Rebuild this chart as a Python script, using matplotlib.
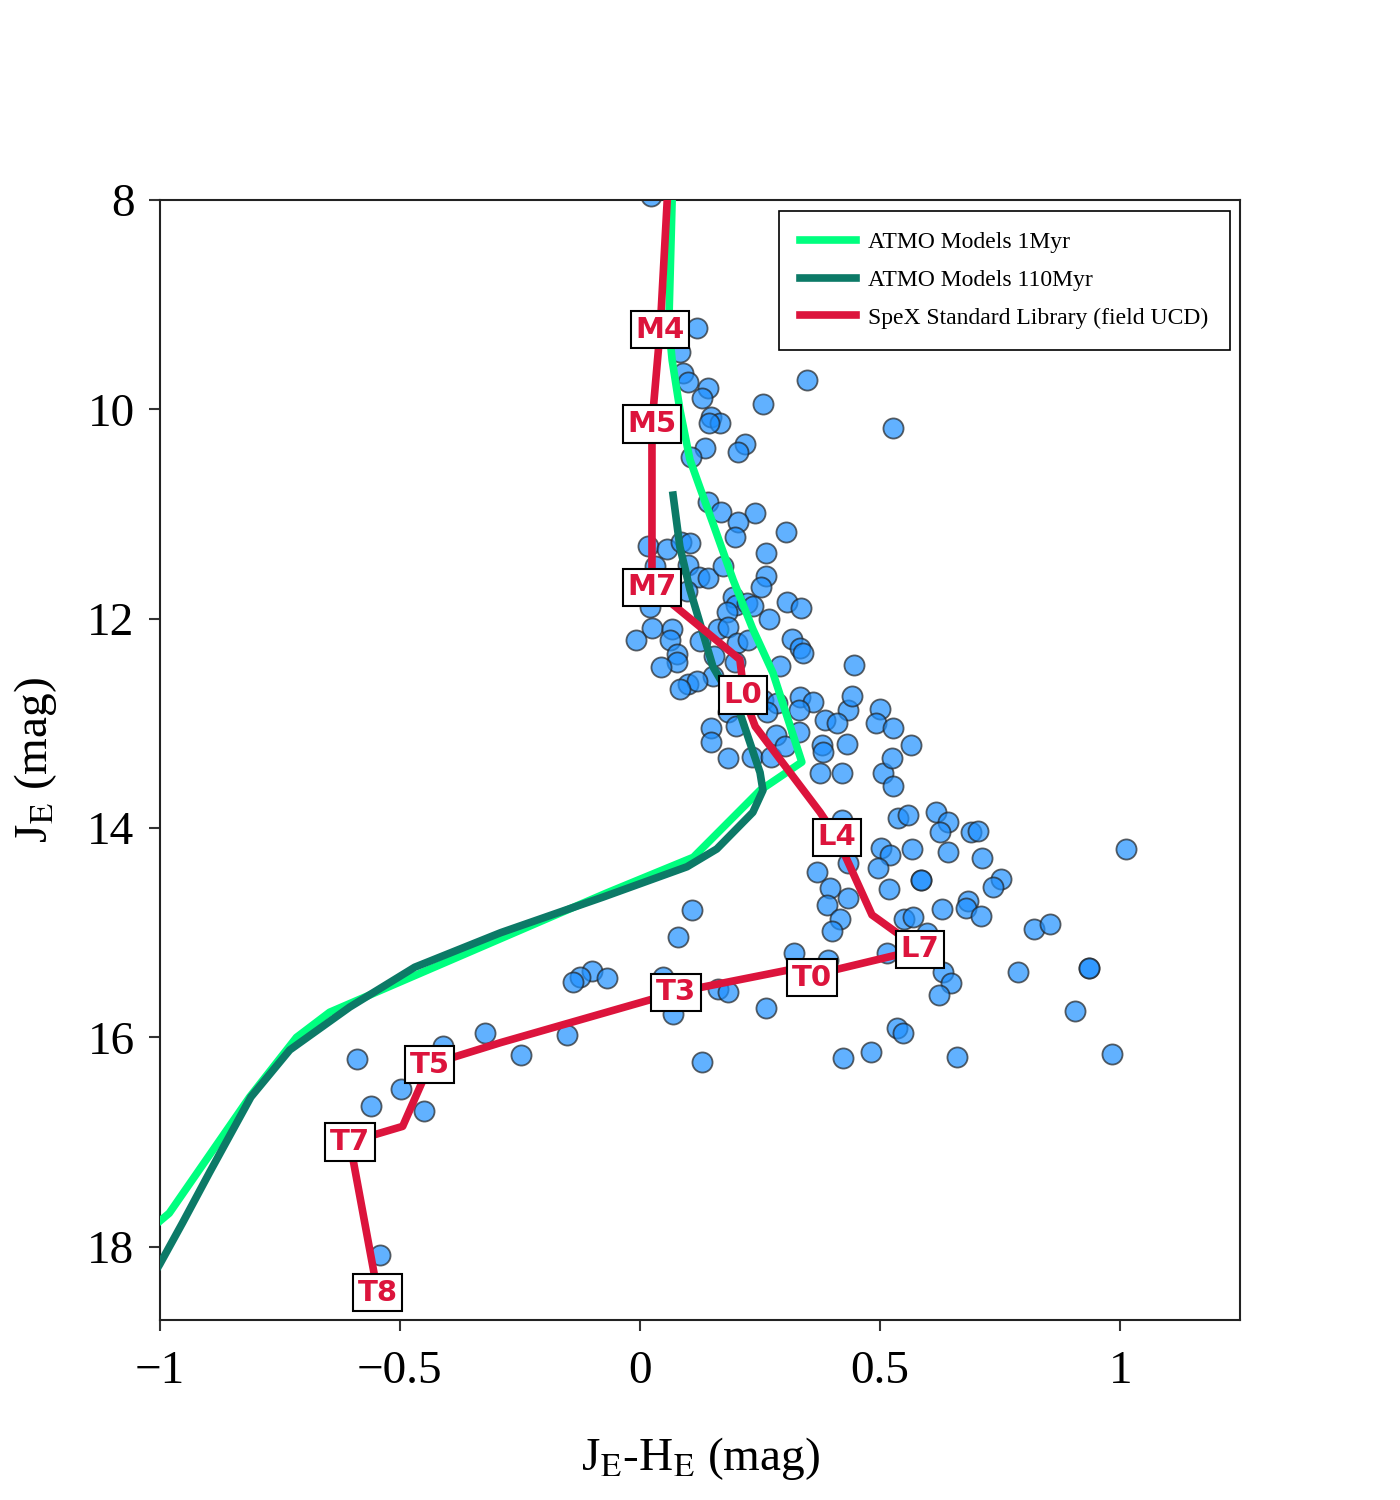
import matplotlib
matplotlib.use("Agg")
import matplotlib.pyplot as plt
from matplotlib.ticker import FuncFormatter

plt.rcParams['font.family'] = ['Liberation Serif', 'DejaVu Serif']
plt.rcParams['mathtext.fontset'] = 'stix'

# observed sources (J-H, J)
obs_jh = [0.023, 0.119, 0.083, 0.090, 0.100, 0.142, 0.129, 0.348, 0.256, 0.148,
          0.167, 0.144, 0.527, 0.135, 0.219, 0.204, 0.106, 0.142, 0.169, 0.240,
          0.204, 0.198, 0.304, 0.262, 0.017, 0.056, 0.085, 0.104, 0.031, 0.100,
          0.123, 0.142, 0.173, 0.262, 0.252, 0.194, 0.200, 0.181, 0.223, 0.235,
          0.306, 0.335, 0.021, 0.098, 0.269, 0.025, 0.067, -0.008, 0.0625, 0.125,
          0.1625, 0.183, 0.202, 0.225, 0.317, 0.333, 0.340, 0.154, 0.077, 0.077,
          0.044, 0.198, 0.292, 0.152, 0.100, 0.119, 0.083, 0.446, 0.183, 0.256,
          0.285, 0.333, 0.360, 0.331, 0.433, 0.442, 0.385, 0.410, 0.500, 0.492,
          0.527, 0.148, 0.148, 0.183, 0.200, 0.233, 0.283, 0.273, 0.331, 0.302,
          0.379, 0.381, 0.431, 0.375, 0.421, 0.506, 0.525, 0.565, 0.527, 0.537,
          0.558, 0.617, 0.642, 0.625, 0.690, 0.704, 1.0125, 0.502, 0.521, 0.567,
          0.642, 0.7125, 0.420, 0.433, 0.496, 0.369, 0.396, 0.433, 0.519, 0.585,
          0.585, 0.752, 0.735, 0.390, 0.417, 0.400, 0.629, 0.683, 0.679, 0.710,
          0.550, 0.569, 0.821, 0.854, 0.515, 0.321, 0.392, 0.631, 0.648, 0.623,
          0.7875, 0.935, 0.935, 0.906, 0.2625, 0.535, 0.548, 0.481, 0.423, 0.660,
          0.983, 0.108, 0.079, -0.100, -0.125, -0.140, -0.069, 0.048, 0.069, 0.1625,
          0.183, 0.129, -0.152, -0.248, -0.323, -0.410, -0.590, -0.498, -0.560, -0.450,
          -0.542, 0.598, 0.265]
obs_j = [7.96, 9.22, 9.45, 9.65, 9.74, 9.80, 9.89, 9.72, 9.95, 10.07,
         10.13, 10.13, 10.18, 10.37, 10.33, 10.41, 10.46, 10.89, 10.98, 10.99,
         11.08, 11.22, 11.17, 11.37, 11.31, 11.33, 11.27, 11.28, 11.50, 11.49,
         11.60, 11.61, 11.50, 11.59, 11.70, 11.79, 11.87, 11.94, 11.85, 11.88,
         11.84, 11.90, 11.89, 11.74, 12.00, 12.09, 12.10, 12.20, 12.20, 12.21,
         12.10, 12.08, 12.23, 12.20, 12.19, 12.28, 12.33, 12.36, 12.34, 12.41,
         12.46, 12.41, 12.45, 12.55, 12.62, 12.60, 12.67, 12.44, 12.89, 12.78,
         12.81, 12.75, 12.80, 12.87, 12.87, 12.74, 12.97, 13.00, 12.86, 13.00,
         13.04, 13.04, 13.18, 13.33, 13.03, 13.32, 13.11, 13.32, 13.08, 13.22,
         13.21, 13.27, 13.20, 13.47, 13.47, 13.47, 13.33, 13.21, 13.60, 13.90,
         13.88, 13.85, 13.94, 14.04, 14.04, 14.03, 14.20, 14.19, 14.26, 14.20,
         14.23, 14.29, 13.92, 14.33, 14.38, 14.42, 14.57, 14.67, 14.58, 14.50,
         14.50, 14.49, 14.56, 14.74, 14.87, 14.98, 14.77, 14.70, 14.76, 14.84,
         14.87, 14.85, 14.96, 14.92, 15.19, 15.19, 15.26, 15.38, 15.48, 15.60,
         15.38, 15.34, 15.34, 15.75, 15.72, 15.91, 15.96, 16.14, 16.20, 16.19,
         16.16, 14.78, 15.04, 15.37, 15.42, 15.47, 15.43, 15.42, 15.78, 15.54,
         15.57, 16.24, 15.98, 16.17, 15.96, 16.08, 16.21, 16.49, 16.66, 16.70,
         18.08, 15.00, 12.89]

# ATMO isochrones
atmo1_jh = [0.067, 0.060, 0.067, 0.083, 0.104, 0.125, 0.152, 0.194, 0.235, 0.277,
            0.337, 0.250, 0.111, -0.069, -0.646, -0.715, -0.8125, -0.98, -1.05]
atmo1_j = [8.0, 9.2, 9.53, 10.0, 10.48, 10.75, 11.09, 11.63, 12.1, 12.52,
           13.37, 13.64, 14.28, 14.62, 15.76, 16.0, 16.57, 17.68, 17.95]

atmo110_jh = [0.069, 0.083, 0.104, 0.152, 0.208, 0.250, 0.256, 0.235, 0.160, 0.098,
              -0.077, -0.29, -0.469, -0.604, -0.729, -0.81, -0.896, -0.952, -1.0, -1.05]
atmo110_j = [10.82, 11.31, 11.72, 12.46, 12.9, 13.47, 13.64, 13.85, 14.2, 14.37,
             14.66, 15.0, 15.33, 15.71, 16.12, 16.57, 17.29, 17.77, 18.17, 18.55]

# SpeX standards
spex_jh = [0.058, 0.042, 0.025, 0.025, 0.025, 0.208, 0.213, 0.215, 0.240, 0.375,
           0.410, 0.483, 0.583, 0.410, 0.358, 0.305, 0.075, -0.29, -0.4375, -0.494,
           -0.604, -0.546]
spex_j = [7.9, 9.24, 10.14, 11.5, 11.7, 12.39, 12.58, 12.73, 13.03, 13.85,
          14.09, 14.83, 15.16, 15.35, 15.43, 15.36, 15.57, 16.05, 16.26, 16.85,
          17.0, 18.44]
spex_labels = {1: 'M4', 2: 'M5', 4: 'M7', 7: 'L0', 10: 'L4', 12: 'L7',
               14: 'T0', 16: 'T3', 18: 'T5', 20: 'T7', 21: 'T8'}

fig = plt.figure(figsize=(14, 15), dpi=100)
ax = fig.add_axes([0.114, 0.12, 0.772, 0.7467])

ax.scatter(obs_jh, obs_j, s=210, color='#1e90ff', alpha=0.7,
           edgecolor='#222222', linewidth=1.3, zorder=2)
ax.plot(atmo1_jh, atmo1_j, color='#00ff7f', lw=5.5, label='ATMO Models 1Myr', zorder=3)
ax.plot(atmo110_jh, atmo110_j, color='#0c7a67', lw=5.5, label='ATMO Models 110Myr', zorder=4)
ax.plot(spex_jh, spex_j, color='#dc143c', lw=5.5,
        label='SpeX Standard Library (field UCD)', zorder=5)

for i, lab in spex_labels.items():
    ax.text(spex_jh[i], spex_j[i], lab, ha='center', va='center',
            fontsize=21, fontweight='bold', family='DejaVu Sans', color='#dc143c',
            bbox=dict(boxstyle='square,pad=0.16', fc='white', ec='black', lw=1.5),
            zorder=6)

ax.set_xlim(-1, 1.25)
ax.set_ylim(18.7, 8)
ax.set_xticks([-1, -0.5, 0, 0.5, 1])
ax.set_yticks([8, 10, 12, 14, 16, 18])
ax.xaxis.set_major_formatter(FuncFormatter(lambda v, p: ('%g' % v).replace('-', '\u2212')))
ax.yaxis.set_major_formatter(FuncFormatter(lambda v, p: '%g' % v))
ax.tick_params(axis='both', labelsize=34, length=8, width=1.5, color='#333333')
ax.tick_params(axis='x', pad=14)
ax.tick_params(axis='y', pad=10)
for sp in ax.spines.values():
    sp.set_linewidth(1.5)
    sp.set_color('#222222')

ax.set_xlabel(r'J$_{\rm E}$-H$_{\rm E}$ (mag)', fontsize=34, labelpad=30)
ax.set_ylabel(r'J$_{\rm E}$ (mag)', fontsize=34, labelpad=20)

leg = ax.legend(loc='upper right', fontsize=17, fancybox=False, edgecolor='black',
                framealpha=1, handlelength=2.4, handletextpad=0.5, borderpad=0.9,
                labelspacing=0.68, borderaxespad=0.45, bbox_to_anchor=(1, 1))
leg.get_frame().set_linewidth(1.2)

fig.savefig('out.png', dpi=100)
